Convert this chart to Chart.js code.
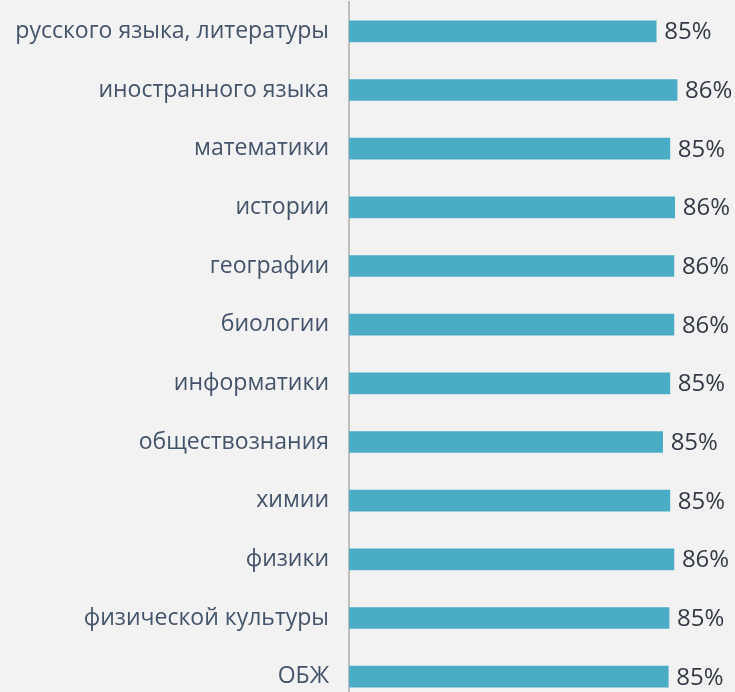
<!DOCTYPE html>
<html>
<head>
<meta charset="utf-8">
<script src="https://cdn.jsdelivr.net/npm/chart.js@4.4.1/dist/chart.umd.min.js"></script>
<style>
  html, body { margin: 0; padding: 0; background: #f2f2f2; overflow: hidden; }
  #wrap { width: 735px; height: 706px; }
</style>
</head>
<body>
<div id="wrap"><canvas id="subjects"></canvas></div>
<script>
const subjects = [
    'русского языка, литературы',
    'иностранного языка',
    'математики',
    'истории',
    'географии',
    'биологии',
    'информатики',
    'обществознания',
    'химии',
    'физики',
    'физической культуры',
    'ОБЖ'
];
// share of positive answers, %
const shares = [85.1, 86.4, 85.95, 86.25, 86.2, 86.2, 85.95, 85.5, 85.95, 86.2, 85.9, 85.85];

const barColor = '#4bacc6';

// value labels at the end of each bar
const valueLabels = {
    id: 'valueLabels',
    afterDatasetsDraw(chart) {
        const ctx = chart.ctx;
        const meta = chart.getDatasetMeta(0);
        ctx.save();
        ctx.font = '24px "Open Sans"';
        ctx.fillStyle = '#343a46';
        ctx.textAlign = 'left';
        ctx.textBaseline = 'middle';
        meta.data.forEach(function(bar, i) {
            ctx.fillText(Math.floor(shares[i]) + '%', bar.x + 8, bar.y + 1);
        });
        ctx.restore();
    }
};

const ctx_subjects = document.getElementById('subjects').getContext('2d');
const subjectsChart = new Chart(ctx_subjects, {
    type: 'bar',
    data: {
        labels: subjects,
        datasets: [{
            data: shares,
            backgroundColor: barColor,
            borderWidth: 0,
            barThickness: 21
        }]
    },
    options: {
        indexAxis: 'y',
        responsive: true,
        maintainAspectRatio: false,
        animation: false,
        layout: { padding: { top: 2, right: 0, bottom: 0, left: 0 } },
        plugins: {
            legend: { display: false },
            tooltip: { enabled: false }
        },
        scales: {
            x: {
                display: false,
                min: 66,
                max: 90
            },
            y: {
                afterFit: function(scale) {
                    scale.width = 349;
                    scale.paddingTop = 0;
                    scale.paddingBottom = 0;
                },
                grid: { display: false, drawTicks: false },
                border: { display: true, color: '#bfbfbf', width: 2 },
                ticks: {
                    padding: 20,
                    color: '#44546a',
                    font: { family: 'Open Sans', size: 23 }
                }
            }
        }
    },
    plugins: [valueLabels]
});
</script>
</body>
</html>
